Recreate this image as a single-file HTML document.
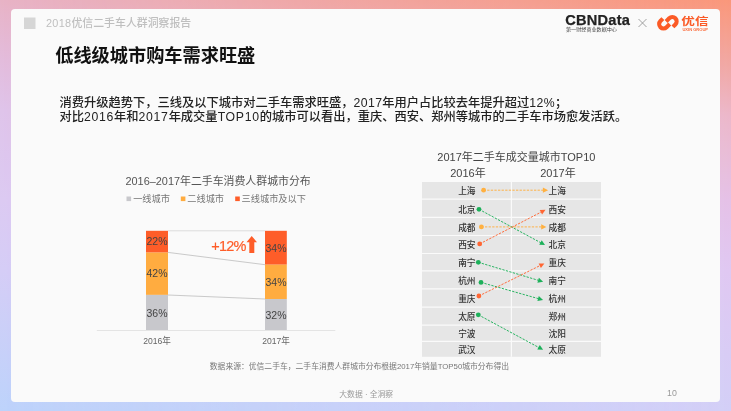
<!DOCTYPE html>
<html lang="zh-CN">
<head>
<meta charset="utf-8">
<title>2018优信二手车人群洞察报告</title>
<style>
html,body{margin:0;padding:0;}
body{width:731px;height:411px;overflow:hidden;position:relative;
  font-family:"Liberation Sans","Noto Sans CJK SC",sans-serif;
  background:linear-gradient(to bottom,#e8b3c6 0px,#e3bcdc 60px,#dfc4ea 110px,#dccaf2 200px,#d5cdf6 270px,#bdd3fb 411px);}
#bgtop{position:absolute;left:0;top:0;width:731px;height:411px;
  background:linear-gradient(to bottom,#fa977a 0px,#f1a8a4 65px,#ecb7ca 115px,#e9bcd6 150px,#e5c1e7 200px,#e0c8f2 270px,#d3cff7 411px);
  -webkit-mask-image:linear-gradient(to right,rgba(0,0,0,0),#000);
  mask-image:linear-gradient(to right,rgba(0,0,0,0),#000);}
#panel{position:absolute;left:11px;top:9px;width:709px;height:393px;background:#fafafa;border-radius:4px;}
svg{position:absolute;left:0;top:0;}
</style>
</head>
<body>
<div id="bgtop"></div>
<div id="panel"></div>
<svg width="731" height="411" viewBox="0 0 731 411" style="font-family:'Liberation Sans','Noto Sans CJK SC',sans-serif">
  <!-- header -->
  <rect x="24" y="17.5" width="11.5" height="11.5" fill="#d6d6d6"/>
  <text x="46" y="27.2" font-size="10.9" font-weight="500" fill="#bfbfbf"><tspan letter-spacing="0.3">2018</tspan>优信二手车人群洞察报告</text>
  <text x="55.2" y="62" font-size="18.2" font-weight="bold" fill="#111">低线级城市购车需求旺盛</text>
  <text x="59.5" y="106.5" font-size="12.25" font-weight="500" fill="#222">消费升级趋势下，三线及以下城市对二手车需求旺盛，<tspan letter-spacing="0.4">2017</tspan>年用户占比较去年提升超过<tspan letter-spacing="0.4">12%</tspan>；</text>
  <text x="59.5" y="120.5" font-size="12.25" font-weight="500" fill="#222">对比<tspan letter-spacing="0.7">2016</tspan>年和<tspan letter-spacing="0.7">2017</tspan>年成交量<tspan letter-spacing="0.7">TOP10</tspan>的城市可以看出，重庆、西安、郑州等城市的二手车市场愈发活跃。</text>

  <!-- logos -->
  <text x="565.2" y="25.4" font-size="14.6" font-weight="bold" fill="#222" stroke="#222" stroke-width="0.25" letter-spacing="0.25">CBNData</text>
  <text x="566" y="30.8" font-size="5.1" fill="#444">第一财经商业数据中心</text>
  <path d="M638.5 19 L646.5 27 M646.5 19 L638.5 27" stroke="#8a8a8a" stroke-width="0.8" fill="none"/>
  <g transform="translate(667.9 22.75) rotate(-45)" fill="none">
<path d="M-0.6,-6.5 L-4.07,-6.5 A4.35,4.35 0 0 0 -4.07,2.2 L0.35,2.2" stroke="#fb5a26" stroke-width="4.1"/><path d="M-0.35,-2.2 L4.07,-2.2 A4.35,4.35 0 0 1 4.07,6.5 L0.6,6.5" stroke="#fafafa" stroke-width="4.7"/><path d="M-0.35,-2.2 L4.07,-2.2 A4.35,4.35 0 0 1 4.07,6.5 L0.6,6.5" stroke="#fb5a26" stroke-width="4.1"/></g>
  <text transform="translate(681.3 24.6) scale(1 0.78)" font-size="13.6" font-weight="bold" fill="#fb5a26">优信</text>
  <text x="682.4" y="30.8" font-size="4.05" font-weight="bold" fill="#fb6a3a">UXIN GROUP</text>

  <!-- left chart -->
  <text x="125.5" y="184.5" font-size="10.9" fill="#555">2016–2017年二手车消费人群城市分布</text>
  <rect x="126.5" y="196.5" width="4.6" height="4.6" fill="#c8c8cc"/>
  <text x="133.2" y="201.6" font-size="9.2" fill="#777">一线城市</text>
  <rect x="180.8" y="196.5" width="4.6" height="4.6" fill="#ffac40"/>
  <text x="187.3" y="201.6" font-size="9.2" fill="#777">二线城市</text>
  <rect x="235.2" y="196.5" width="4.6" height="4.6" fill="#fe5d29"/>
  <text x="241.6" y="201.6" font-size="9.2" fill="#777">三线城市及以下</text>

  <line x1="96.8" y1="330.5" x2="335.3" y2="330.5" stroke="#e4e4e4" stroke-width="1"/>
  <line x1="168" y1="230.8" x2="265" y2="230.8" stroke="#dcdcdc" stroke-width="1"/>
  <line x1="168" y1="252.4" x2="265" y2="264.7" stroke="#bdbdbd" stroke-width="0.8"/>
  <line x1="168" y1="295" x2="265" y2="299" stroke="#bdbdbd" stroke-width="0.8"/>

  <rect x="146" y="230.8" width="22" height="21.8" fill="#fe5d29"/>
  <rect x="146" y="252.6" width="22" height="42.3" fill="#ffac40"/>
  <rect x="146" y="294.9" width="22" height="35.1" fill="#c8c8cc"/>
  <rect x="265" y="230.8" width="21.8" height="33.9" fill="#fe5d29"/>
  <rect x="265" y="264.7" width="21.8" height="34.3" fill="#ffac40"/>
  <rect x="265" y="299" width="21.8" height="31" fill="#c8c8cc"/>
  <g font-size="10.5" fill="#444" text-anchor="middle">
    <text x="157" y="245.3">22%</text>
    <text x="157" y="277.3">42%</text>
    <text x="157" y="316.5">36%</text>
    <text x="276" y="251.5">34%</text>
    <text x="276" y="285.5">34%</text>
    <text x="276" y="318.5">32%</text>
  </g>
  <text x="211.2" y="250.7" font-size="14.5" fill="#fe5d29" stroke="#fe5d29" stroke-width="0.2" letter-spacing="-0.75">+12%</text>
  <path d="M251.7 236 L246.5 242.2 L249.3 242.2 L249.3 253 L254.3 253 L254.3 242.2 L257 242.2 Z" fill="#fe5d29"/>
  <g font-size="8.6" fill="#666" text-anchor="middle">
    <text x="157" y="344">2016年</text>
    <text x="276" y="344">2017年</text>
  </g>

  <!-- right chart -->
  <text x="437.3" y="160.7" font-size="11" fill="#444">2017年二手车成交量城市TOP10</text>
  <text x="468" y="177" font-size="11" fill="#444" text-anchor="middle">2016年</text>
  <text x="558" y="177" font-size="11" fill="#444" text-anchor="middle">2017年</text>
  <rect x="422" y="182" width="179" height="174.8" fill="#e6e6e6"/>
  <g stroke="#fafafa" stroke-width="1.2">
    <line x1="422" x2="601" y1="199.2" y2="199.2"/>
    <line x1="422" x2="601" y1="217.4" y2="217.4"/>
    <line x1="422" x2="601" y1="235.5" y2="235.5"/>
    <line x1="422" x2="601" y1="253.5" y2="253.5"/>
    <line x1="422" x2="601" y1="270.9" y2="270.9"/>
    <line x1="422" x2="601" y1="288.9" y2="288.9"/>
    <line x1="422" x2="601" y1="307.1" y2="307.1"/>
    <line x1="422" x2="601" y1="325.1" y2="325.1"/>
    <line x1="422" x2="601" y1="341.3" y2="341.3"/>
    <line x1="511.4" x2="511.4" y1="182" y2="356.8"/>
  </g>
  <g font-size="8.7" font-weight="500" fill="#333" text-anchor="end" transform="translate(0 0.15)">
    <text x="475.5" y="194">上海</text>
    <text x="475.5" y="212.6">北京</text>
    <text x="475.5" y="230.6">成都</text>
    <text x="475.5" y="248.2">西安</text>
    <text x="475.5" y="265.7">南宁</text>
    <text x="475.5" y="283.4">杭州</text>
    <text x="475.5" y="301.6">重庆</text>
    <text x="475.5" y="319.6">太原</text>
    <text x="475.5" y="336.7">宁波</text>
    <text x="475.5" y="352.6">武汉</text>
  </g>
  <g font-size="8.7" font-weight="500" fill="#333" transform="translate(0 0.15)">
    <text x="548.5" y="194">上海</text>
    <text x="548.5" y="212.6">西安</text>
    <text x="548.5" y="230.6">成都</text>
    <text x="548.5" y="248.2">北京</text>
    <text x="548.5" y="265.7">重庆</text>
    <text x="548.5" y="283.4">南宁</text>
    <text x="548.5" y="301.6">杭州</text>
    <text x="548.5" y="319.6">郑州</text>
    <text x="548.5" y="336.7">沈阳</text>
    <text x="548.5" y="352.6">太原</text>
  </g>
  <g fill="none" stroke-width="0.95" stroke-dasharray="2.3 1.3">
    <line x1="483.6" y1="190.2" x2="543.4" y2="190.2" stroke="#ffb040"/>
    <line x1="481.4" y1="226.9" x2="541.7" y2="226.9" stroke="#ffb040"/>
    <line x1="479" y1="209.3" x2="540.9" y2="242.8" stroke="#1db05a"/>
    <line x1="479.7" y1="243.9" x2="541.3" y2="212.0" stroke="#ff6633"/>
    <line x1="478.3" y1="262.3" x2="538.6" y2="280.4" stroke="#1db05a"/>
    <line x1="481" y1="282.4" x2="538.6" y2="298.7" stroke="#1db05a"/>
    <line x1="478.9" y1="296" x2="540.2" y2="265.5" stroke="#ff6633"/>
    <line x1="478.3" y1="314.8" x2="539.0" y2="347.6" stroke="#1db05a"/>
  </g>
  <g>
    <polygon points="548.1,190.2 542.9,192.8 542.9,187.6" fill="#ffb040"/>
    <polygon points="546.4,226.9 541.2,229.5 541.2,224.3" fill="#ffb040"/>
    <polygon points="545.0,245.0 539.2,244.8 541.7,240.2" fill="#1db05a"/>
    <polygon points="545.5,209.8 542.1,214.5 539.7,209.9" fill="#ff6633"/>
    <polygon points="543.1,281.8 537.4,282.8 538.9,277.8" fill="#1db05a"/>
    <polygon points="543.1,300.0 537.4,301.1 538.8,296.1" fill="#1db05a"/>
    <polygon points="544.4,263.4 540.9,268.0 538.6,263.4" fill="#ff6633"/>
    <polygon points="543.1,349.8 537.3,349.6 539.8,345.0" fill="#1db05a"/>
  </g>
  <g>
    <circle cx="483.6" cy="190.2" r="2.4" fill="#ffb040"/>
    <circle cx="481.4" cy="226.9" r="2.4" fill="#ffb040"/>
    <circle cx="479" cy="209.3" r="2.4" fill="#1db05a"/>
    <circle cx="479.7" cy="243.9" r="2.4" fill="#ff6633"/>
    <circle cx="478.3" cy="262.3" r="2.4" fill="#1db05a"/>
    <circle cx="481" cy="282.4" r="2.4" fill="#1db05a"/>
    <circle cx="478.9" cy="296" r="2.4" fill="#ff6633"/>
    <circle cx="478.3" cy="314.8" r="2.4" fill="#1db05a"/>
  </g>

  <text x="209.8" y="369.3" font-size="7.8" fill="#777">数据来源：优信二手车，二手车消费人群城市分布根据2017年销量TOP50城市分布得出</text>
  <text x="366.2" y="396.8" font-size="7.8" fill="#999" text-anchor="middle">大数据 · 全洞察</text>
  <text x="667" y="396" font-size="8.8" fill="#999">10</text>
</svg>
</body>
</html>
